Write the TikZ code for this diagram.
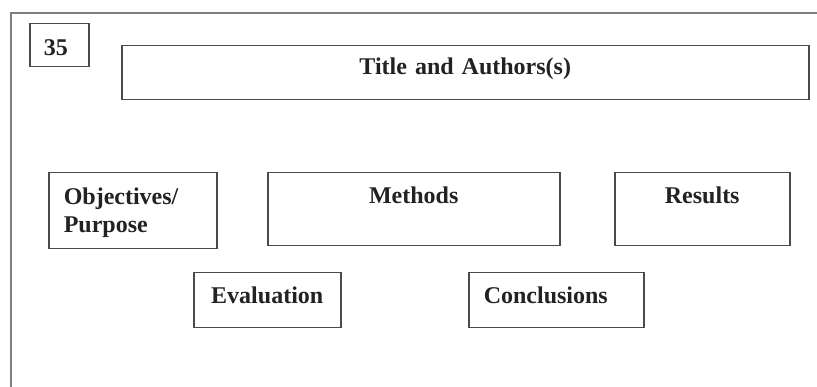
\documentclass[tikz,border=0pt]{standalone}
\usepackage{fontspec}
\setmainfont{Liberation Serif}
\usepackage{tikz}

\definecolor{framegray}{HTML}{7F7F7F}
\definecolor{boxgray}{HTML}{4A4A4A}
\definecolor{inkgray}{HTML}{222222}

\begin{document}
\begin{tikzpicture}[
  x=1pt, y=-1pt,
  box/.style={draw=boxgray, line width=1.5pt, anchor=north west, inner xsep=15pt, inner ysep=0pt,
    text=inkgray, font=\fontsize{24}{28}\selectfont\bfseries},
  frame/.style={draw=framegray, line width=2.2pt}
]
\useasboundingbox (0,0) rectangle (817,387);

\draw[frame] (11,390) -- (11,13) -- (820,13);

\node[box, inner xsep=14pt, text width=31pt, text height=32pt, text depth=11pt, align=left] (number) at (29,23)
  {35};
\node[box, text width=657pt, text height=29pt, text depth=25pt, align=center] (title) at (121,45)
  {Title and Authors(s)};
\node[box, text width=138pt, text height=32pt, text depth=44pt, align=left] (objectives) at (48,172)
  {Objectives/\\Purpose};
\node[box, text width=262pt, text height=31pt, text depth=42pt, align=center] (methods) at (267,172)
  {Methods};
\node[box, text width=145pt, text height=31pt, text depth=42pt, align=center] (results) at (614,172)
  {Results};
\node[box, text width=117pt, text height=31pt, text depth=24pt, align=center] (evaluation) at (193,272)
  {Evaluation};
\node[box, text width=145pt, text height=31pt, text depth=24pt, align=left] (conclusions) at (468,272)
  {Conclusions};
\end{tikzpicture}
\end{document}
